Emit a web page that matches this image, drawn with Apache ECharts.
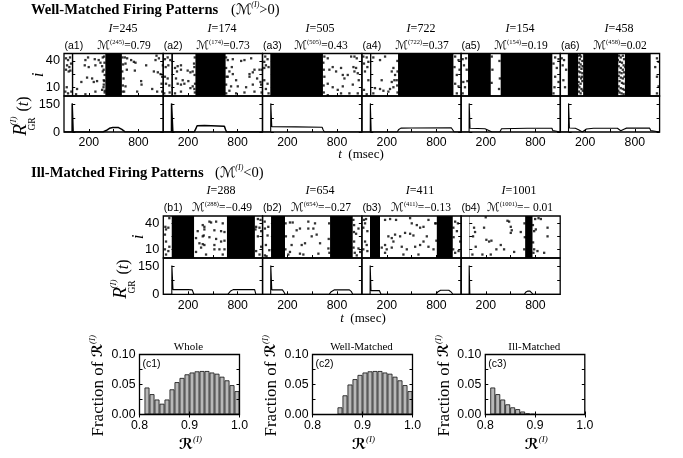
<!DOCTYPE html>
<html><head><meta charset="utf-8">
<style>html,body{margin:0;padding:0;background:#fff}#c{width:683px;height:458px}</style>
<script src="https://cdn.jsdelivr.net/npm/echarts@6/dist/echarts.min.js"></script>
</head><body><div id="c"></div>
<script>
const labelsA=['(a1)','(a2)','(a3)','(a4)','(a5)','(a6)'];
const idsA=['245','174','505','722','154','458'];
const mA=['0.79','0.73','0.43','0.37','0.19','0.02'];
const labelsB=['(b1)','(b2)','(b3)','(b4)'];
const idsB=['288','654','411','1001'];
const mB=['\u22120.49','\u22120.27','\u22120.13','\u2212 0.01'];

const blocksA1=[[-5,12],[400,600]];
const blocksA2=[[-2,18],[290,655]];
const blocksA3=[[-7,630]];
const blocksA4=[[-3,13],[336,1006]];
const blocksA5=[[-15,260],[380,1005]];
const blocksA6=[[-10,115],[175,600],[680,992]];
const blocksB1=[[2,272],[670,1008]];
const blocksB2=[[2,171],[716,990]];
const blocksB3=[[-3,118],[805,998]];
const blocksB4=[[676,765]];
const thinB4=[[0,8]];

const dotsA1=[[-76,43],[-51,41],[-27,44],[-63,35],[-35,33],[-15,37],[-76,30],[-43,28],[-23,29],[-67,10],[-11,5],[-51,3],[-84,5],[58,8],[46,2],[151,35],[159,41],[191,44],[199,33],[280,35],[272,42],[320,41],[341,38],[361,34],[369,44],[179,21],[110,16],[240,20],[260,16],[300,17],[159,2],[280,5],[369,28],[381,18],[393,6],[361,7],[381,13],[636,44],[664,43],[712,41],[765,38],[757,29],[745,39],[894,35],[1019,46],[1048,43],[1007,41],[987,28],[1035,27],[1068,25],[1088,22],[1096,35],[1080,14],[833,17],[838,13],[785,5],[644,11],[627,5],[1027,5],[1088,5],[967,8],[644,37],[660,30],[385,45],[390,38],[380,30],[392,24],[388,17],[378,10],[392,4],[608,44],[615,36],[605,28],[620,20],[612,12],[606,5]];
const dotsA2=[[-79,42],[-46,44],[-14,41],[-70,33],[-38,35],[-79,22],[-46,20],[-66,14],[-26,12],[-87,3],[-22,4],[43,32],[75,34],[115,35],[67,28],[115,30],[196,29],[229,27],[257,28],[277,33],[273,37],[55,20],[75,14],[136,18],[204,17],[156,14],[257,11],[115,13],[229,9],[277,8],[285,14],[43,3],[115,5],[681,41],[742,42],[843,40],[883,41],[964,43],[661,32],[730,33],[701,28],[742,25],[681,22],[782,18],[661,13],[721,11],[802,11],[903,10],[944,25],[984,27],[1004,30],[1065,30],[1095,30],[1036,20],[1077,16],[1085,13],[944,22],[984,13],[782,3],[883,4],[1004,5],[1090,4],[701,6],[282,44],[280,24],[283,4],[660,44],[665,22],[662,3]];
const dotsA3=[[-68,45],[-80,39],[-40,42],[-28,33],[-60,35],[-80,18],[-40,14],[-60,8],[-28,3],[-80,32],[647,45],[688,43],[748,33],[789,28],[688,14],[748,10],[688,1],[809,7],[708,30],[647,22],[849,32],[870,24],[890,20],[930,24],[971,45],[1011,45],[1039,43],[999,33],[1031,32],[1011,28],[1051,26],[991,13],[870,11],[849,3],[950,3],[1051,3],[1063,18],[635,38],[640,30],[638,12],[640,4]];
const dotsA4=[[-84,45],[-43,44],[-23,39],[-76,37],[-35,33],[-64,28],[-23,18],[-76,7],[-43,2],[37,44],[118,41],[179,45],[280,32],[260,28],[300,24],[292,18],[260,16],[239,8],[280,10],[320,18],[219,5],[118,8],[159,6],[57,9],[37,3],[138,18],[1027,45],[1068,41],[1019,33],[1080,30],[1047,24],[1027,14],[1068,11],[1047,3],[328,40],[330,28],[326,12],[330,4]];
const dotsA5=[[-80,42],[-39,43],[-64,35],[-31,30],[-72,16],[-23,17],[-52,10],[-80,3],[272,45],[280,30],[270,15],[365,40],[370,20],[360,8],[1039,44],[1080,42],[1019,37],[1059,32],[1039,22],[1080,16],[1031,10],[1019,3]];
const dotsA6=[[-84,43],[-56,41],[-72,35],[-31,30],[-64,18],[-44,10],[1068,43],[1088,39],[1047,33],[1068,22],[1088,11],[1068,3],[120,46],[135,42],[150,45],[125,38],[145,36],[165,40],[130,33],[155,31],[120,28],[140,27],[165,26],[128,22],[150,20],[120,16],[145,14],[165,17],[130,10],[155,8],[125,5],[145,3],[170,6],[135,47],[160,22],[115,12],[168,34],[610,46],[630,44],[655,46],[670,42],[620,39],[645,38],[665,35],[605,34],[630,32],[655,30],[615,27],[640,26],[670,27],[605,23],[630,21],[655,20],[675,22],[615,17],[645,15],[665,14],[605,11],[630,9],[655,8],[675,7],[615,4],[640,3],[665,2],[600,6],[685,33],[595,41]];
const dotsB1=[[-75,36],[-67,33],[-80,27],[-27,46],[-39,35],[-67,19],[-27,13],[-80,10],[-39,8],[-67,4],[377,38],[397,36],[458,42],[478,41],[539,42],[619,40],[316,31],[397,33],[518,32],[599,31],[640,30],[296,23],[377,25],[389,26],[458,24],[539,22],[337,17],[377,16],[397,15],[518,15],[599,19],[640,20],[357,12],[417,4],[579,10],[640,10],[296,7],[619,4],[518,10],[1044,45],[1076,44],[1023,36],[1064,35],[1015,33],[1084,31],[1044,25],[1084,13],[1023,8],[1064,4]];
const dotsB2=[[-72,34],[-31,36],[-60,15],[-19,9],[-72,3],[-52,2],[-40,26],[-75,42],[231,41],[264,41],[312,32],[352,34],[453,42],[534,40],[272,25],[251,15],[373,15],[413,17],[494,25],[554,27],[595,17],[352,5],[393,4],[575,5],[211,4],[231,7],[453,34],[514,34],[696,11],[1007,38],[1060,34],[1031,28],[1007,19],[1060,11],[1039,3],[1080,7],[1015,6],[178,40],[182,25],[176,10],[705,40],[700,22],[708,6],[998,44],[1005,30],[1000,12]];
const dotsB3=[[-76,44],[-51,45],[-63,40],[-84,35],[-35,31],[-63,19],[-84,10],[-35,8],[-43,15],[179,44],[240,45],[312,44],[482,46],[502,40],[563,38],[603,35],[644,36],[704,44],[785,40],[219,25],[260,23],[300,27],[361,25],[421,29],[482,28],[522,26],[280,19],[179,15],[139,12],[199,10],[260,12],[381,13],[442,10],[543,13],[603,15],[644,19],[704,13],[765,10],[401,4],[583,4],[179,6],[684,25],[1027,42],[1060,40],[1088,19],[1048,31],[1068,8],[1027,6],[795,40],[800,20],[1005,35],[1003,10],[1008,24]];
const dotsB4=[[58,35],[70,30],[46,25],[179,35],[207,21],[240,19],[268,20],[381,15],[328,10],[421,10],[543,7],[502,36],[482,42],[462,43],[502,29],[514,32],[199,47],[623,30],[78,13],[159,4],[38,4],[260,4],[797,45],[838,46],[866,45],[947,35],[947,25],[906,6],[825,8],[785,10],[785,31],[805,33],[668,40],[672,24],[665,10],[770,38],[772,18],[776,6]];

const rateA1=[[-100,0],[-2,0],[-1,155],[10,155],[11,0],[370,0],[410,8],[450,20],[490,24],[560,24],[600,14],[635,2],[650,0],[1100,0]];
const rateA2=[[-100,0],[0,0],[1,155],[16,155],[17,0],[275,0],[295,18],[310,34],[400,35],[640,31],[655,12],[668,0],[1100,0]];
const rateA3=[[-100,0],[-2,0],[-1,155],[10,155],[11,29],[300,28],[620,26],[632,12],[648,0],[1100,0]];
const rateA4=[[-100,0],[0,0],[1,155],[10,155],[11,0],[325,0],[345,14],[370,21],[500,22],[980,23],[995,14],[1015,0],[1100,0]];
const rateA5=[[-100,0],[-2,0],[-1,155],[8,155],[9,20],[190,18],[230,10],[275,0],[370,0],[390,18],[700,20],[1000,20],[1010,8],[1022,0],[1100,0]];
const rateA6=[[-100,0],[-2,0],[-1,155],[8,155],[9,22],[80,20],[120,12],[165,0],[185,4],[215,16],[300,20],[590,20],[630,7],[650,5],[675,16],[700,21],[980,21],[992,8],[1005,0],[1100,0]];
const rateB1=[[-100,0],[3,0],[4,155],[16,155],[17,25],[200,25],[250,24],[270,0],[680,0],[710,16],[745,25],[1005,25],[1020,0],[1100,0]];
const rateB2=[[-100,0],[-2,0],[-1,155],[10,155],[11,24],[140,24],[158,12],[172,0],[705,0],[730,14],[770,24],[950,24],[975,14],[990,0],[1100,0]];
const rateB3=[[-100,0],[-2,0],[-1,155],[8,155],[9,20],[110,20],[122,12],[130,0],[795,0],[820,14],[850,22],[950,22],[980,12],[998,0],[1100,0]];
const rateB4=[[-100,0],[-2,0],[-1,155],[6,155],[7,0],[665,0],[685,12],[710,18],[735,17],[755,8],[772,0],[1100,0]];

const binsR=[0.80,0.81,0.82,0.83,0.84,0.85,0.86,0.87,0.88,0.89,0.90,0.91,0.92,0.93,0.94,0.95,0.96,0.97,0.98,0.99];
const histWhole=[0,.045,.034,.025,.018,.025,.042,.054,.061,.067,.070,.072,.0725,.0725,.070,.068,.063,.057,.049,.039];
const histWell=[0,0,0,0,0,.012,.032,.050,.059,.066,.070,.072,.0725,.0725,.070,.068,.063,.057,.049,.039];
const histIll=[0,.045,.034,.025,.017,.012,.009,.005,.002,.001,0,0,0,0,0,0,0,0,0,0];

const SERIF='"Liberation Serif",serif', SANS='"Liberation Sans",sans-serif', SCR='"DejaVu Serif","DejaVu Sans",serif';
const grids=[],xA=[],yA=[],series=[],gfx=[];
function addGrid(l,t,w,h,x,y,labelX,labelY){
  const gi=grids.length;
  grids.push({left:l,top:t,width:w,height:h,show:true,borderColor:'#000',borderWidth:1.3,backgroundColor:'transparent',z:5});
  const lab={color:'#000',fontFamily:SANS,fontSize:12.3};
  const xi=xA.length;
  xA.push({type:'value',gridIndex:gi,min:x.min,max:x.max,position:'bottom',splitLine:{show:false},axisLine:{show:false},
    axisTick:{show:true,inside:true,length:3,lineStyle:{color:'#000',width:1},customValues:x.ticks},
    axisLabel:labelX?{...lab,margin:5,customValues:x.labels,formatter:x.fmt}:{show:false},z:6});
  if(x.top) xA.push({type:'value',gridIndex:gi,min:x.min,max:x.max,position:'top',splitLine:{show:false},axisLine:{show:false},
    axisTick:{show:true,inside:true,length:3,lineStyle:{color:'#000',width:1},customValues:x.ticks},axisLabel:{show:false},z:6});
  const yi=yA.length;
  for(const pos of ['left','right']) yA.push({type:'value',gridIndex:gi,min:y.min,max:y.max,position:pos,splitLine:{show:false},axisLine:{show:false},
    axisTick:{show:true,inside:true,length:3,lineStyle:{color:'#000',width:1},customValues:y.ticks},
    axisLabel:(labelY&&pos==='left')?{...lab,margin:4,fontSize:y.fs||12.8,customValues:y.labels,formatter:y.fmt}:{show:false},z:6});
  return {xi,yi};
}
const TX={min:-100,max:1100,ticks:[200,500,800],labels:[200,800],fmt:v=>String(v)};
const IY={min:0,max:48.5,ticks:[10,25,40],labels:[10,40],fmt:v=>String(v)};
const RY={min:0,max:195,ticks:[0,75,150],labels:[0,150],fmt:v=>String(v)};
function blockSeries(a,data,yMax,color){
  return {type:'custom',xAxisIndex:a.xi,yAxisIndex:a.yi,clip:true,silent:true,z:2,data:data,
    renderItem:(p,api)=>{const s=api.coord([api.value(0),0]),e=api.coord([api.value(1),yMax]);
      return {type:'rect',shape:{x:s[0],y:e[1],width:e[0]-s[0],height:s[1]-e[1]},style:{fill:color}}},
    encode:{x:[0,1]}};
}
function panel(l,t,w,h1,h2,blocks,dots,rate,showY,thin,spikeW){
  const a=addGrid(l,t,w,h1,TX,IY,false,showY);
  series.push(blockSeries(a,blocks,48.5,'#000'));
  if(thin) series.push(blockSeries(a,thin,48.5,'#777'));
  series.push({type:'scatter',xAxisIndex:a.xi,yAxisIndex:a.yi,data:dots,symbol:'rect',symbolSize:2.3,itemStyle:{color:'#000'},silent:true,z:3,clip:true});
  const b=addGrid(l,t+h1,w,h2,TX,RY,true,showY);
  series.push({type:'line',xAxisIndex:b.xi,yAxisIndex:b.yi,data:rate,showSymbol:false,lineStyle:{color:'#000',width:spikeW||1.2},silent:true,z:3,clip:true});
}
function txt(x,y,text,font,size,o={}){
  gfx.push({type:'text',x,y,rotation:o.rot||0,z:20,silent:true,style:{text,fill:'#000',fontFamily:font,fontSize:size,fontWeight:o.weight||'normal',fontStyle:o.style||'normal',align:o.align||'center',verticalAlign:'middle',rich:o.rich}});
}
const mRich={m:{fontFamily:SCR,fontStyle:'italic',fontSize:12,fill:'#000',lineHeight:15},
 s:{fontFamily:SERIF,fontSize:6.5,verticalAlign:'top',fill:'#000',lineHeight:7},
 n:{fontFamily:SERIF,fontSize:11.5,fill:'#000',lineHeight:15}};
function heads(lefts,y1,y2,labels,ids,ms,cx){
  lefts.forEach((l,k)=>{
    txt(cx[k],y1,'{i|I}{n|='+ids[k]+'}',SERIF,12,{rich:{i:{fontFamily:SERIF,fontStyle:'italic',fontSize:12,fill:'#000'},n:{fontFamily:SERIF,fontSize:12,fill:'#000'}}});
    txt(l+0.5,y2,labels[k],SANS,10.5,{align:'left'});
    txt(cx[k]+1,y2,'{m|\u2133}{s|('+ids[k]+')}{n|='+ms[k]+'}',SERIF,11.5,{rich:mRich});
  });
}
function titleRow(x,y,t){ txt(x,y,t,SERIF,14.6,{align:'left',weight:'bold'}); }

const leftsA=[64,163.2,262.6,362,461,560.4], W=99.2;
const blkA=[blocksA1,blocksA2,blocksA3,blocksA4,blocksA5,blocksA6];
const dotA=[dotsA1,dotsA2,dotsA3,dotsA4,dotsA5,dotsA6];
const rateA=[rateA1,rateA2,rateA3,rateA4,rateA5,rateA6];
leftsA.forEach((l,k)=>panel(l,53.5,W,42.5,36,blkA[k],dotA[k],rateA[k],k===0,null,k<2?1.5:1.1));
const leftsB=[163.3,262.6,362,461];
const blkB=[blocksB1,blocksB2,blocksB3,blocksB4];
const dotB=[dotsB1,dotsB2,dotsB3,dotsB4];
const rateB=[rateB1,rateB2,rateB3,rateB4];
leftsB.forEach((l,k)=>panel(l,216,W,42,36.3,blkB[k],dotB[k],rateB[k],k===0,k===3?thinB4:null,1.1));

heads(leftsA,29,46,labelsA,idsA,mA,[123,222,320,421,520,619]);
heads(leftsB,191,208,labelsB,idsB,mB,[221,320,420,519]);

function titleM(x,y,sign){
  txt(x,y,'{p|(}{m|\u2133}{s|(I)}{p|'+sign+'0)}',SERIF,14,{align:'left',rich:{
    p:{fontFamily:SERIF,fontSize:14.5,fill:'#000',lineHeight:18},
    m:{fontFamily:SCR,fontStyle:'italic',fontSize:14.5,fill:'#000',lineHeight:18},
    s:{fontFamily:SERIF,fontStyle:'italic',fontSize:8,verticalAlign:'top',fill:'#000',lineHeight:9}}});
}
titleRow(31,10,'Well-Matched Firing Patterns');
titleM(231,10,'>');
titleRow(31,173,'Ill-Matched Firing Patterns');
titleM(215,173,'<');

function rLabel(x,yc){
  txt(x,yc,'R',SERIF,19,{rot:Math.PI/2,style:'italic'});
  txt(x-7,yc-9,'(I)',SERIF,9,{rot:Math.PI/2,style:'italic'});
  txt(x+11,yc-6,'GR',SERIF,9.5,{rot:Math.PI/2});
  txt(x+3,yc-26,'{a|(}{b|t}{a|)}',SERIF,16,{rot:Math.PI/2,rich:{a:{fontFamily:SERIF,fontSize:16,fill:'#000'},b:{fontFamily:SERIF,fontStyle:'italic',fontSize:16,fill:'#000'}}});
}
txt(39,75,'i',SERIF,17,{rot:Math.PI/2,style:'italic'});
rLabel(21,130);
txt(139,237,'i',SERIF,17,{rot:Math.PI/2,style:'italic'});
rLabel(121,293);
const tRich={a:{fontFamily:SERIF,fontStyle:'italic',fontSize:13,fill:'#000'},b:{fontFamily:SERIF,fontSize:13,fill:'#000'}};
txt(361,155,'{a|t}{b|  (msec)}',SERIF,13,{rich:tRich});
txt(363,319,'{a|t}{b|  (msec)}',SERIF,13,{rich:tRich});

const HX={min:0.8,max:1.0,ticks:[0.8,0.9,1.0],labels:[0.8,0.9,1.0],fmt:v=>v.toFixed(1),top:true};
const HY={min:0,max:0.1,ticks:[0,0.025,0.05,0.075,0.1],labels:[0,0.05,0.1],fmt:v=>v.toFixed(2),fs:12.3};
const histLefts=[139.5,312.5,485.3];
const histData=[histWhole,histWell,histIll];
const histTitles=['Whole','Well-Matched','Ill-Matched'];
const histTags=['(c1)','(c2)','(c3)'];
const scrRich=(f)=>({r:{fontFamily:SCR,fontStyle:'italic',fontSize:f,fontWeight:'bold',fill:'#000',lineHeight:20},s:{fontFamily:SERIF,fontStyle:'italic',fontSize:9,verticalAlign:'top',fill:'#000',lineHeight:10}});
histLefts.forEach((l,k)=>{
  const a=addGrid(l,354.5,k===2?99.5:100,60,HX,HY,true,true);
  series.push({type:'bar',xAxisIndex:a.xi,yAxisIndex:a.yi,barWidth:5,silent:true,z:2,
    data:binsR.map((b,j)=>[+(b+0.005).toFixed(3),histData[k][j]]).filter(d=>d[1]>0),
    itemStyle:{color:'#b8b8b8',borderColor:'#222',borderWidth:0.9}});
  txt(l+49,347,histTitles[k],SERIF,11);
  txt(l+3,364,histTags[k],SANS,10.5,{align:'left'});
  txt(l+51,445,'{r|\u211B}{s|(I)}',SERIF,15,{rich:scrRich(15)});
  txt(l-41,399,'Fraction of',SERIF,17,{rot:Math.PI/2});
  txt(l-41,346,'{r|\u211B}{s|(I)}',SERIF,15,{rot:Math.PI/2,rich:scrRich(14)});
});

const chart=echarts.init(document.getElementById('c'));
chart.setOption({animation:false,backgroundColor:'#fff',grid:grids,xAxis:xA,yAxis:yA,series,graphic:{elements:gfx}});
</script></body></html>
